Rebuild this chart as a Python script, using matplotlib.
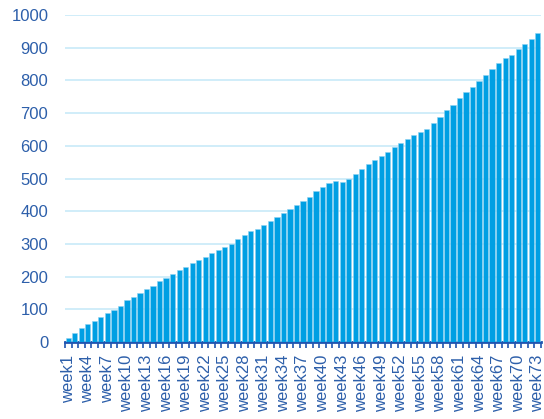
import matplotlib
matplotlib.use("Agg")
import matplotlib.pyplot as plt
import numpy as np

weeks = [f"week{i}" for i in range(1, 74)]
values = [13, 29, 44, 55, 64, 76, 88, 98, 111, 127, 137, 150, 162, 172, 186, 196,
          207, 219, 230, 241, 251, 261, 271, 281, 289, 300, 315, 327, 338, 345,
          357, 371, 383, 394, 406, 419, 432, 444, 461, 475, 486, 492, 490, 498,
          513, 529, 544, 558, 570, 582, 595, 608, 621, 633, 643, 652, 671, 689,
          710, 726, 746, 764, 781, 799, 818, 835, 852, 868, 879, 895, 911, 928, 945]
yticks = list(range(0, 1001, 100))

plt.rcParams['font.family'] = ['Liberation Sans', 'DejaVu Sans']
text_color = '#2D5FAA'
axis_color = '#1F55B0'

fig = plt.figure(figsize=(5.44, 4.19), dpi=100)
ax = fig.add_axes([65/544, 1 - 342/419, 476/544, 327/419])

x = np.arange(len(values))
ax.bar(x, values, width=0.8, color='#009FE3', edgecolor='#8FD3F2', linewidth=0.4, zorder=3)

ax.set_xlim(-0.5, len(values) - 0.5)
ax.set_ylim(0, 1000)
ax.set_yticks(yticks)
ax.set_yticklabels([str(v) for v in yticks], color=text_color, fontsize=12)
ax.tick_params(axis='y', length=0, pad=12)
ax.yaxis.grid(True, color='#C8EAF8', linewidth=1.2, zorder=0)
ax.set_axisbelow(True)

major = list(range(0, len(values), 3))
ax.set_xticks(major)
ax.set_xticklabels([weeks[i] for i in major], rotation=90, color=text_color, fontsize=12)
ax.set_xticks(np.arange(-0.5, len(values), 1.0), minor=True)
ax.tick_params(axis='x', which='major', length=0, pad=9)
ax.tick_params(axis='x', which='minor', length=4, width=1.2, color=axis_color, direction='out')

for s in ['top', 'right', 'left']:
    ax.spines[s].set_visible(False)
ax.spines['bottom'].set_color(axis_color)
ax.spines['bottom'].set_linewidth(2)

fig.savefig('out.png', dpi=100)
